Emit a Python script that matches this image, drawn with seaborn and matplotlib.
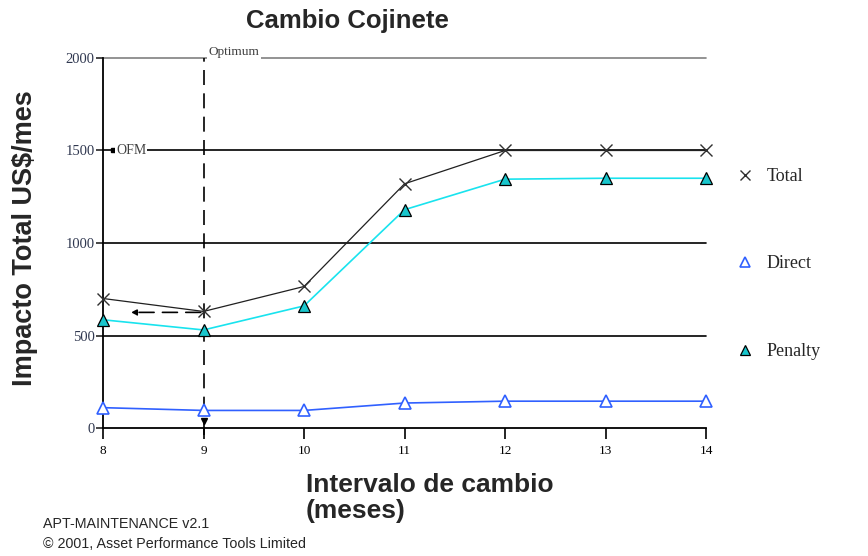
import matplotlib
matplotlib.use("Agg")
import matplotlib.pyplot as plt
import numpy as np
import pandas as pd
import seaborn as sns

# data
intervalo = [8, 9, 10, 11, 12, 13, 14]
total = [700, 630, 765, 1320, 1500, 1500, 1500]
direct = [110, 95, 95, 135, 145, 145, 145]
penalty = [585, 530, 660, 1180, 1345, 1350, 1350]
y_ticks = [0, 500, 1000, 1500, 2000]
optimum_x = 9
optimum_y = 625
ofm_y = 1500

df = pd.DataFrame({"Intervalo": intervalo, "Total": total,
                   "Direct": direct, "Penalty": penalty})

sns.set_style("white")
serif = ["Liberation Serif", "DejaVu Serif"]
sans = ["Liberation Sans", "DejaVu Sans"]

fig = plt.figure(figsize=(8.68, 5.56), dpi=100)
ax = fig.add_axes([0.1187, 0.2302, 0.6947, 0.6655])

# horizontal reference lines
for yv in y_ticks[1:]:
    col = "#808080" if yv == 2000 else "black"
    ax.plot([8, 14], [yv, yv], color=col, lw=1.2, zorder=1, clip_on=False)

sns.lineplot(data=df, x="Intervalo", y="Penalty", ax=ax, color="#19e3ee",
             lw=1.2, marker="^", markersize=9, markerfacecolor="#19c6cc",
             markeredgecolor="black", markeredgewidth=0.9, label="Penalty",
             zorder=4, clip_on=False)
sns.lineplot(data=df, x="Intervalo", y="Direct", ax=ax, color="#3060ff",
             lw=1.2, marker="^", markersize=9, markerfacecolor="white",
             markeredgecolor="#3060ff", markeredgewidth=1.2, label="Direct",
             zorder=4, clip_on=False)
sns.lineplot(data=df, x="Intervalo", y="Total", ax=ax, color="#202020",
             lw=0.9, marker="x", markersize=9, markeredgecolor="#303030",
             markeredgewidth=1.0, label="Total", zorder=5, clip_on=False)

# optimum lines
ax.plot([optimum_x, optimum_x], [-40, 2000], color="black", lw=1.2,
        dashes=(9, 5), zorder=3, clip_on=False)
ax.annotate("", xy=(8.25, optimum_y), xytext=(optimum_x, optimum_y),
            arrowprops=dict(arrowstyle="-|>", color="black", lw=1.2,
                            linestyle=(0, (9, 5)), mutation_scale=8),
            zorder=3)
ax.plot([optimum_x], [40], marker="v", color="black", markersize=5,
        zorder=6, clip_on=False)
ax.text(optimum_x + 0.05, 2000, "Optimum", family=serif, fontsize=9.5,
        color="#404040", va="bottom", ha="left",
        bbox=dict(facecolor="white", edgecolor="none", pad=1), zorder=6)
ax.plot([8.1], [ofm_y], marker="s", color="black", markersize=3.5, zorder=6)
ax.text(8.13, ofm_y, "OFM", family=serif, fontsize=10, color="#404040",
        va="center", ha="left",
        bbox=dict(facecolor="white", edgecolor="none", pad=0.5), zorder=6)

ax.set_xlim(8, 14)
ax.set_ylim(0, 2000)
ax.set_xticks(intervalo)
ax.set_yticks(y_ticks)
ax.set_xticklabels([str(v) for v in intervalo], family=serif, fontsize=9.5)
ax.set_yticklabels([str(v) for v in y_ticks], family=serif, fontsize=10.5,
                   color="#303850")
ax.tick_params(axis="x", direction="out", length=8, width=1.2, pad=4,
               bottom=True, colors="black")
ax.tick_params(axis="y", direction="out", length=5, width=1.2, pad=1,
               left=True)
for s in ["top", "right"]:
    ax.spines[s].set_visible(False)
for s in ["left", "bottom"]:
    ax.spines[s].set_color("black")
    ax.spines[s].set_linewidth(1.3)
ax.set_xlabel("")
ax.set_ylabel("")

# legend outside the axes, on the right
handles, labels = ax.get_legend_handles_labels()
ax.get_legend().remove()
order = [labels.index(n) for n in ["Total", "Direct", "Penalty"]]
leg = fig.legend([handles[i] for i in order], [labels[i] for i in order],
                 loc="upper left", bbox_to_anchor=(0.831, 0.727),
                 frameon=False, prop={"family": serif, "size": 13},
                 labelspacing=3.9, handlelength=0.8, handletextpad=0.8)
for h in leg.legend_handles:
    h.set_linestyle("none")
    h.set_markersize(7)

fig.text(0.40, 0.962, "Cambio Cojinete", family=sans, fontsize=18.5,
         fontweight="bold", ha="center", va="center")
fig.text(0.029, 0.572, "Impacto Total US$/mes", family=sans, fontsize=19.5,
         fontweight="bold", rotation=90, ha="center", va="center")
fig.text(0.352, 0.104, "Intervalo de cambio\n(meses)", family=sans,
         fontsize=19, fontweight="bold", ha="left", va="center",
         linespacing=1.08)
fig.text(0.05, 0.039, "APT-MAINTENANCE v2.1\n\u00a9 2001, Asset Performance Tools Limited",
         family=sans, fontsize=10.3, ha="left", va="center", linespacing=1.55)

fig.savefig("out.png", dpi=100)
